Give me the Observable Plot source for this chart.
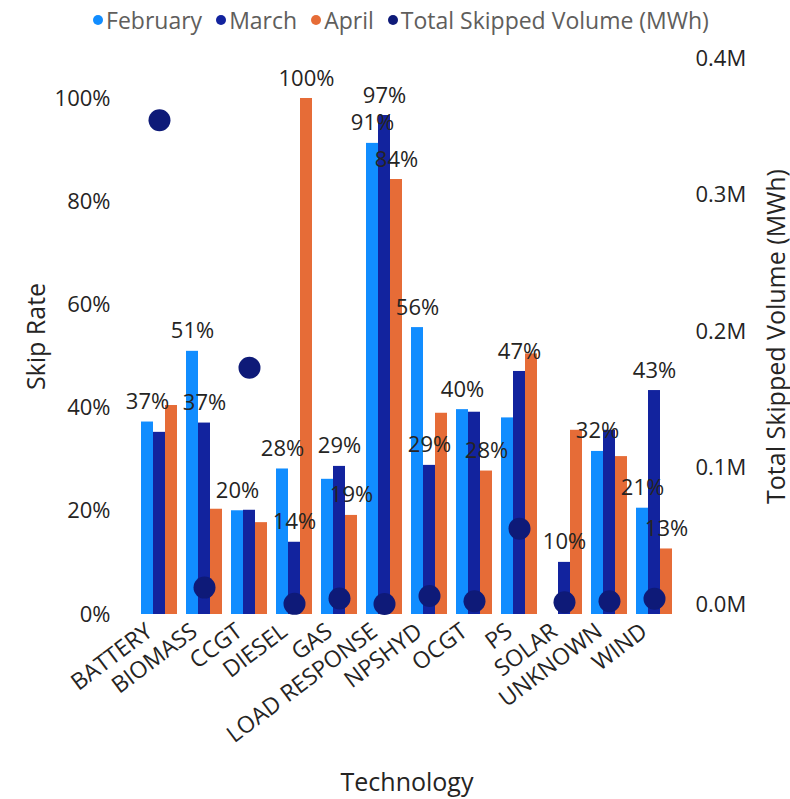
<!DOCTYPE html>
<html>
<head>
<meta charset="utf-8">
<script src="https://cdn.jsdelivr.net/npm/d3@7"></script>
<script src="https://cdn.jsdelivr.net/npm/@observablehq/plot@0.6"></script>
<style>
  html, body { margin: 0; padding: 0; background: #fff; }
  body { width: 790px; height: 799px; overflow: hidden; font-family: "Open Sans", "Noto Sans", sans-serif; }
  #legend { height: 40px; display: flex; align-items: center; justify-content: center; gap: 14px; font-size: 23px; color: #605E5C; padding-left: 12px; box-sizing: border-box; }
  #legend .item { display: flex; align-items: center; gap: 3px; }
  #legend .sw { width: 10px; height: 10px; border-radius: 50%; display: inline-block; }
  #chart svg { display: block; }
  #chart [aria-label="y-axis label"], #chart [aria-label="fx-axis label"] { font-size: 25px; }
</style>
</head>
<body>
<div id="legend"></div>
<div id="chart"></div>
<script>
// ---- data ----
const techs = ["BATTERY", "BIOMASS", "CCGT", "DIESEL", "GAS", "LOAD RESPONSE", "NPSHYD", "OCGT", "PS", "SOLAR", "UNKNOWN", "WIND"];
const months = ["February", "March", "April"];
const february = [37.3, 51.0, 20.1, 28.2, 26.2, 91.3, 55.6, 39.7, 38.1, 0, 31.6, 20.6];
const march    = [35.3, 37.1, 20.2, 14.0, 28.7, 96.7, 28.9, 39.2, 47.1, 10.1, 35.7, 43.4];
const april    = [40.5, 20.4, 17.8, 100, 19.2, 84.3, 39.0, 27.8, 50.5, 35.7, 30.6, 12.7];
const skippedVolume = [354800, 12400, 173400, 500, 4400, 400, 6200, 2400, 55600, 1700, 2400, 4200];
// which bar labels are visible in the reference (others hidden by overlap)
const labelsFebruary = ["BATTERY", "BIOMASS", "CCGT", "DIESEL", "LOAD RESPONSE", "NPSHYD", "OCGT", "UNKNOWN", "WIND"];
const labelsMarch    = ["BIOMASS", "DIESEL", "GAS", "LOAD RESPONSE", "NPSHYD", "PS", "SOLAR", "WIND"];
const labelsApril    = ["DIESEL", "GAS", "LOAD RESPONSE", "OCGT", "WIND"];
const skipRateTicks = [0, 20, 40, 60, 80, 100];
const volumeTicks = [0, 100000, 200000, 300000, 400000];
const monthColors = ["#118DFF", "#12239E", "#E66C37"];
const volumeColor = "#0E1A78";

// ---- tables ----
const series = [february, march, april];
const labelSets = [labelsFebruary, labelsMarch, labelsApril];
const rows = techs.flatMap((t, i) => months.map((m, j) => ({
  tech: t, month: m, value: series[j][i], labeled: labelSets[j].includes(t)
}))).filter(d => d.value > 0);
const vols = techs.map((t, i) => ({tech: t, volume: skippedVolume[i]}));

// secondary axis: volume domain mapped onto the skip-rate axis
const yTop = 107.75;
const volToY = d3.scaleLinear([-7300, 400000], [0, yTop]);

// legend
const legend = document.getElementById("legend");
[...months.map((m, i) => [m, monthColors[i]]), ["Total Skipped Volume (MWh)", volumeColor]].forEach(([name, c]) => {
  const it = document.createElement("div");
  it.className = "item";
  it.innerHTML = `<span class="sw" style="background:${c}"></span><span>${name}</span>`;
  legend.appendChild(it);
});

const chart = Plot.plot({
  width: 790,
  height: 759,
  marginLeft: 136,
  marginRight: 114,
  marginTop: 18,
  marginBottom: 185,
  style: {fontFamily: "'Open Sans', 'Noto Sans', sans-serif", fontSize: "22px", color: "#252423", background: "#fff"},
  fx: {domain: techs, padding: 0.208, label: null},
  x: {domain: months, padding: 0, axis: null},
  y: {domain: [0, yTop], axis: null},
  color: {domain: months, range: monthColors},
  marks: [
    Plot.barY(rows, {fx: "tech", x: "month", y: "value", fill: "month"}),
    Plot.dot(vols, {fx: "tech", x: () => "March", y: d => volToY(d.volume), r: 11, fill: volumeColor}),
    Plot.text(rows.filter(d => d.labeled), {fx: "tech", x: "month", y: "value", text: d => Math.round(d.value) + "%", dy: -20, fill: "#252423", fontSize: 22}),
    Plot.axisY({anchor: "left", ticks: skipRateTicks, tickFormat: d => d + "%", tickSize: 0, tickPadding: 31, label: "Skip Rate", labelArrow: "none", labelAnchor: "center", labelOffset: 114, fontSize: 22}),
    Plot.axisY({anchor: "right", ticks: volumeTicks.map(v => volToY(v)), tickFormat: (d, i) => (volumeTicks[i] / 1e6).toFixed(1) + "M", tickSize: 0, tickPadding: 23, label: "Total Skipped Volume (MWh)", labelArrow: "none", labelAnchor: "center", labelOffset: 112, fontSize: 22}),
    Plot.axisFx({anchor: "bottom", tickRotate: -37, tickSize: 0, tickPadding: 14, dx: -10, label: "Technology", labelArrow: "none", labelAnchor: "center", labelOffset: 176, fontSize: 23})
  ]
});
document.getElementById("chart").appendChild(chart);
</script>
</body>
</html>
